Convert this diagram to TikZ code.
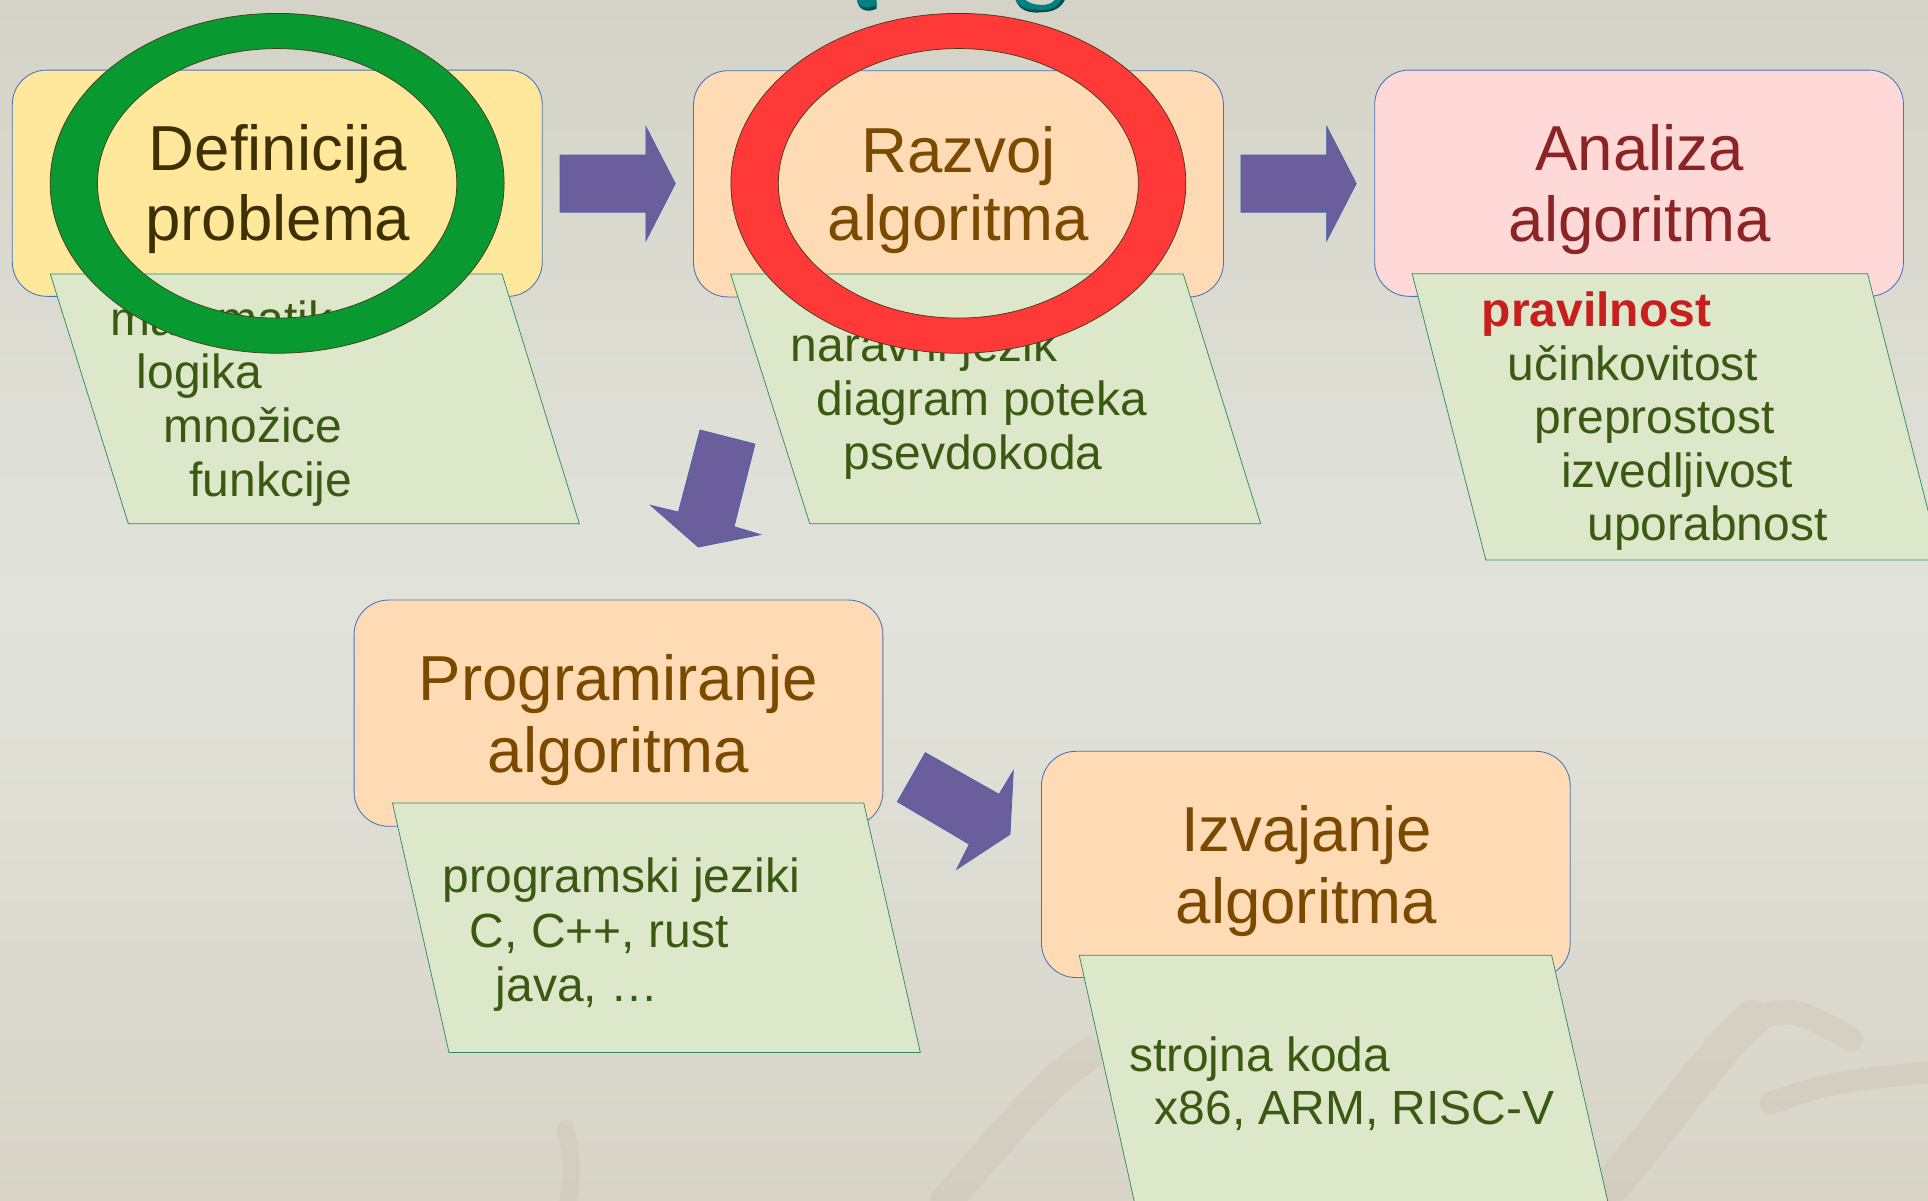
\documentclass[tikz,border=0pt]{standalone}
\usepackage{fontspec}
\setmainfont{Liberation Sans}
\definecolor{bgtop}{RGB}{213,211,199}
\definecolor{bgmid}{RGB}{225,227,219}
\definecolor{bgbot}{RGB}{216,212,200}
\definecolor{branch}{RGB}{200,190,172}
\definecolor{boxline}{RGB}{74,114,186}
\definecolor{yellowfill}{RGB}{255,232,156}
\definecolor{peachfill}{RGB}{255,219,181}
\definecolor{pinkfill}{RGB}{255,216,216}
\definecolor{parafill}{RGB}{221,232,202}
\definecolor{paraline}{RGB}{46,140,100}
\definecolor{subgreen}{RGB}{58,90,18}
\definecolor{defcol}{RGB}{63,48,0}
\definecolor{browncol}{RGB}{122,74,0}
\definecolor{anacol}{RGB}{139,37,37}
\definecolor{redbold}{RGB}{200,30,30}
\definecolor{ringgreen}{RGB}{8,154,48}
\definecolor{ringred}{RGB}{255,56,56}
\definecolor{ringline}{RGB}{70,60,30}
\definecolor{arrowpurple}{RGB}{106,94,156}
\definecolor{arrowline}{RGB}{70,100,170}
\definecolor{tealtitle}{RGB}{0,128,128}
\definecolor{tealshadow}{RGB}{0,80,80}
\begin{document}
\begin{tikzpicture}[x=1pt,y=-1pt,
  box/.style={draw=boxline, line width=0.7pt, rounded corners=28pt, inner sep=0pt,
    minimum width=430pt, minimum height=184pt},
  para/.style={draw=paraline, line width=0.6pt, fill=parafill},
  ttl/.style={anchor=base, inner sep=0pt, font=\fontsize{51.7}{57}\selectfont},
  sub/.style={anchor=base west, inner sep=0pt, text=subgreen, font=\fontsize{39}{44}\selectfont},
  ring/.style={even odd rule, draw=ringline, line width=0.6pt},
  blockarrow/.style={fill=arrowpurple, draw=arrowline, line width=0.6pt, line join=miter},
  branchline/.style={draw=branch, line cap=round, line join=round}
]
% background
\useasboundingbox (0,0) rectangle (1568,976);
\shade[top color=bgtop, bottom color=bgbot, middle color=bgmid] (0,0) rectangle (1568,976);
% faint background branches
\begin{scope}[transparency group, opacity=0.3]
\draw[branchline, line width=14pt] (462,976) .. controls (466,950) .. (460,918);
\draw[branchline, line width=26pt] (770,976) .. controls (820,920) and (850,880) .. (885,858);
\draw[branchline, line width=30pt] (1300,976) .. controls (1350,920) and (1390,860) .. (1425,828);
\draw[branchline, line width=20pt] (1425,828) .. controls (1460,820) .. (1505,845);
\draw[branchline, line width=18pt] (1440,897) .. controls (1490,880) .. (1568,872);
\draw[branchline, line width=16pt] (1000,976) .. controls (1040,955) .. (1090,945);
\end{scope}
% title fragments (cut off at top)
\fill[tealshadow] (697,0) .. controls (698,8) and (705,11) .. (713,7) -- (713,2) .. controls (708,4) and (704,2) .. (703,0) -- cycle;
\fill[tealtitle] (697,0) .. controls (698,6) and (705,8) .. (713,4) -- (713,0) -- cycle;
\fill[tealshadow] (826,0) .. controls (829,9) and (838,11) .. (847,10) .. controls (857,10) and (863,6) .. (866,0) -- (858,0) .. controls (855,4) and (852,5) .. (847,5) .. controls (841,5) and (836,3) .. (834,0) -- cycle;
\fill[tealtitle] (826,0) .. controls (829,7) and (838,8) .. (847,8) .. controls (855,8) and (861,5) .. (863,0) -- (858,0) .. controls (855,3) and (852,4) .. (847,4) .. controls (841,4) and (836,2) .. (834,0) -- cycle;

% ---------- Box 1: Definicija problema ----------
\node[box, fill=yellowfill, minimum width=431pt] (b1) at (225.5,149) {};
\node[ttl, text=defcol] (t1a) at (226,139) {Definicija};
\node[ttl, text=defcol] (t1b) at (226,196) {problema};
\draw[para] (40.9,222.8) -- (408.3,222.8) -- (471.2,426) -- (104.4,426) -- cycle;
\node[sub] (s1a) at (90,272.5) {matematika};
\node[sub] (s1b) at (111,316) {logika};
\node[sub] (s1c) at (133,359.5) {množice};
\node[sub] (s1d) at (154,404) {funkcije};
\fill[ringgreen, ring] (225.4,149.1) ellipse [x radius=184.6pt, y radius=138.2pt]
                       (225.4,149.1) ellipse [x radius=146.1pt, y radius=109.6pt];

% ---------- Box 2: Razvoj algoritma ----------
\node[box, fill=peachfill, minimum width=431pt] (b2) at (779.5,149.5) {};
\node[ttl, text=browncol] (t2a) at (779.5,140) {Razvoj};
\node[ttl, text=browncol] (t2b) at (779.5,196) {algoritma};
\draw[para] (594.2,222.8) -- (962.3,222.8) -- (1025.3,426) -- (658.6,426) -- cycle;
\node[sub] (s2a) at (643,294.3) {naravni jezik};
\node[sub] (s2b) at (664,337.8) {diagram poteka};
\node[sub] (s2c) at (686,381.5) {psevdokoda};
\fill[ringred, ring] (779.4,149.1) ellipse [x radius=185pt, y radius=138.2pt]
                     (779.4,149.1) ellipse [x radius=146.4pt, y radius=109.6pt];

% ---------- Box 3: Analiza algoritma ----------
\node[box, fill=pinkfill] (b3) at (1333,149) {};
\node[ttl, text=anacol] (t3a) at (1333.5,139) {Analiza};
\node[ttl, text=anacol] (t3b) at (1333.5,196.5) {algoritma};
\draw[para] (1148.5,222.7) -- (1518.9,222.7) -- (1578.3,455.5) -- (1208.4,455.5) -- cycle;
\node[sub, text=redbold, font=\fontsize{39}{44}\selectfont\bfseries] (s3a) at (1205,265.5) {pravilnost};
\node[sub] (s3b) at (1226,309.1) {učinkovitost};
\node[sub] (s3c) at (1248,352.5) {preprostost};
\node[sub] (s3d) at (1269.5,396.1) {izvedljivost};
\node[sub] (s3e) at (1291,439.5) {uporabnost};

% ---------- Box 4: Programiranje algoritma ----------
\node[box, fill=peachfill] (b4) at (503,580) {};
\node[ttl, text=browncol] (t4a) at (503,570) {Programiranje};
\node[ttl, text=browncol] (t4b) at (503,628) {algoritma};
\draw[para] (319.2,653.1) -- (702.5,653.1) -- (748.5,856) -- (365.2,856) -- cycle;
\node[sub] (s4a) at (360,726) {programski jeziki};
\node[sub] (s4b) at (382,770.4) {C, C++, rust};
\node[sub] (s4c) at (403,814.2) {java, …};

% ---------- Box 5: Izvajanje algoritma ----------
\node[box, fill=peachfill] (b5) at (1062,703) {};
\node[ttl, text=browncol] (t5a) at (1062.5,692.6) {Izvajanje};
\node[ttl, text=browncol] (t5b) at (1062.5,750.7) {algoritma};
\draw[para] (877.7,776.8) -- (1261.9,776.8) -- (1310.5,990) -- (925.4,990) -- cycle;
\node[sub] (s5a) at (918,871.5) {strojna koda};
\node[sub] (s5b) at (939,914.9) {x86, ARM, RISC-V};

% ---------- block arrows ----------
\filldraw[blockarrow] (455.5,126.1) -- (525.3,126.1) -- (525.3,102.9) -- (549.2,149.3)
  -- (525.3,195.8) -- (525.3,172.6) -- (455.5,172.6) -- cycle;
\filldraw[blockarrow] (1009.2,126.1) -- (1079,126.1) -- (1079,102.9) -- (1103,149.3)
  -- (1079,195.8) -- (1079,172.6) -- (1009.2,172.6) -- cycle;
\filldraw[blockarrow] (569.3,349.7) -- (614,361.1) -- (597,428.3) -- (618.6,434.8)
  -- (567.9,444.9) -- (529.2,411) -- (551.7,416.4) -- cycle;
\filldraw[blockarrow] (752.5,612.1) -- (812.5,646) -- (824.1,626.8) -- (821.4,678.5)
  -- (778,707) -- (788.3,686.6) -- (729.8,652) -- cycle;
\end{tikzpicture}
\end{document}
